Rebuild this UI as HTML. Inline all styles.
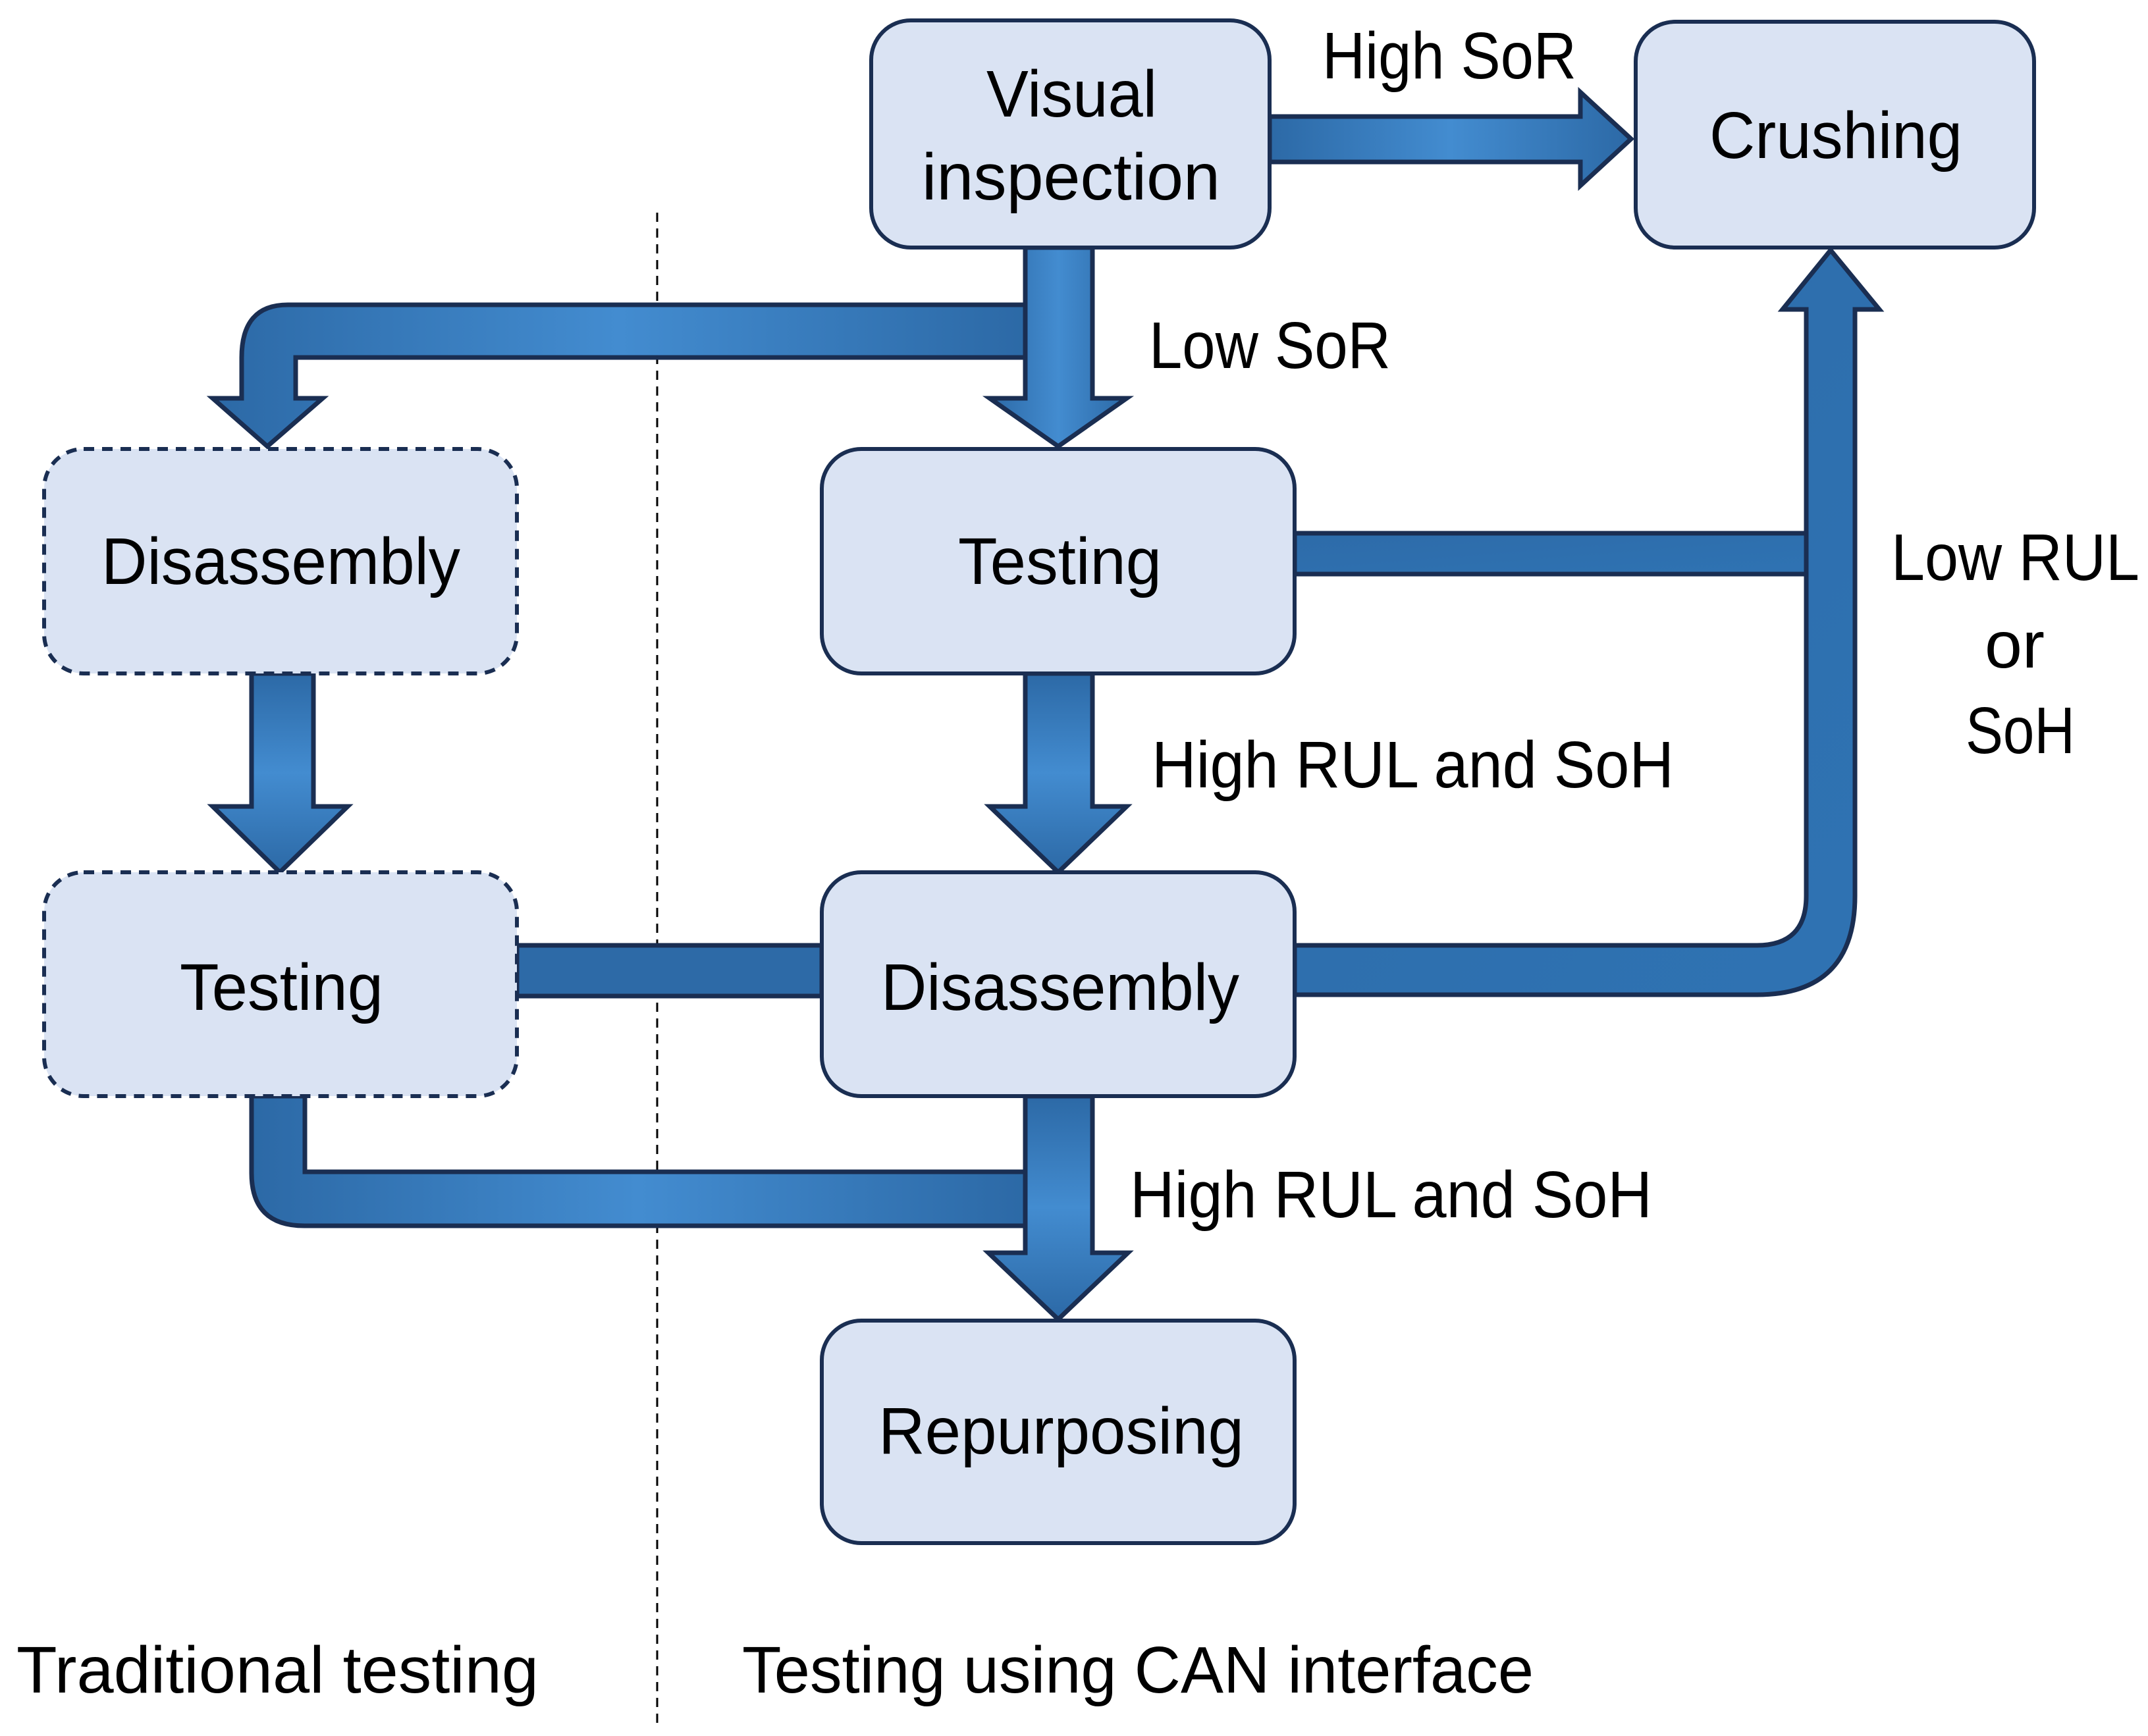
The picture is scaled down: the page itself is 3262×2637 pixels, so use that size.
<!DOCTYPE html>
<html><head><meta charset="utf-8"><style>
html,body{margin:0;padding:0;background:#fff}
svg{display:block}
text{font-family:"Liberation Sans",sans-serif;font-size:100px;fill:#000}
</style></head><body>
<svg width="3262" height="2637" viewBox="0 0 3262 2637" xmlns="http://www.w3.org/2000/svg">
<defs>
<linearGradient id="gh" x1="0" y1="0" x2="1" y2="0">
<stop offset="0" stop-color="#2c69a6"/><stop offset="0.5" stop-color="#438cd0"/><stop offset="1" stop-color="#2c69a6"/>
</linearGradient>
<linearGradient id="gv" x1="0" y1="0" x2="0" y2="1">
<stop offset="0" stop-color="#2c69a6"/><stop offset="0.5" stop-color="#438cd0"/><stop offset="1" stop-color="#2c69a6"/>
</linearGradient>
<linearGradient id="gs" x1="0" y1="0" x2="1" y2="1">
<stop offset="0" stop-color="#2d6ba9"/><stop offset="1" stop-color="#2f73b3"/>
</linearGradient>
</defs>

<!-- dotted divider -->
<line x1="998" y1="323" x2="998" y2="2619" stroke="#000" stroke-width="3" stroke-dasharray="14,10"/>

<g stroke="#1a2e52" stroke-width="7" stroke-linejoin="miter">
<!-- High SoR arrow -->
<path d="M1928 177 H2400 V140 L2477 211 L2400 282 V246 H1928 Z" fill="url(#gh)"/>
<!-- left branch from VI -->
<path d="M1557 463 H437 Q367 463 367 543 V605 H323 L406 678 L490 605 H449 V543 H1557 Z" fill="url(#gh)"/>
<!-- down from VI -->
<path d="M1557 376 H1659 V605 H1711 L1607 678 L1503 605 H1557 Z" fill="url(#gh)"/>
<!-- Testing to crushing horizontal -->
<path d="M1966 810 H2745 V872 H1966 Z" fill="url(#gs)"/>
<!-- Disassembly to crushing -->
<path d="M1966 1436 H2668 Q2743 1436 2743 1361 V470 H2707 L2780 380 L2854 470 H2817 V1361 Q2817 1511 2668 1511 H1966 Z" fill="url(#gs)"/>
<!-- Testing to disassembly -->
<path d="M1557 1023 H1659 V1225 H1711 L1607 1325 L1503 1225 H1557 Z" fill="url(#gv)"/>
<!-- left disassembly to testing -->
<path d="M382 1023 H476 V1225 H528 L425 1325 L323 1225 H382 Z" fill="url(#gv)"/>
<!-- left testing to disassembly -->
<path d="M785 1436 H1248 V1513 H785 Z" fill="#2d6aa7"/>
<!-- bottom loop -->
<path d="M382 1665 H463 V1780 H1557 V1862 H462 Q382 1862 382 1782 Z" fill="url(#gh)"/>
<!-- disassembly to repurposing -->
<path d="M1557 1665 H1659 V1903 H1713 L1607 2004 L1501 1903 H1557 Z" fill="url(#gv)"/>
</g>

<g fill="#dae3f3" stroke="#1a2e52" stroke-width="6">
<rect x="1323" y="31" width="605" height="345" rx="60"/>
<rect x="2484" y="33" width="605" height="343" rx="60"/>
<rect x="1248" y="682" width="718" height="341" rx="60"/>
<rect x="1248" y="1325" width="718" height="340" rx="60"/>
<rect x="1248" y="2006" width="718" height="338" rx="60"/>
<rect x="67" y="682" width="718" height="341" rx="60" stroke-dasharray="16,12"/>
<rect x="67" y="1325" width="718" height="340" rx="60" stroke-dasharray="16,12"/>
</g>

<text x="1498" y="177" textLength="259" lengthAdjust="spacingAndGlyphs">Visual</text>
<text x="1400" y="303" textLength="453" lengthAdjust="spacingAndGlyphs">inspection</text>
<text x="2596" y="240" textLength="384" lengthAdjust="spacingAndGlyphs">Crushing</text>
<text x="1455" y="887" textLength="309" lengthAdjust="spacingAndGlyphs">Testing</text>
<text x="154" y="887" textLength="545" lengthAdjust="spacingAndGlyphs">Disassembly</text>
<text x="1338" y="1534" textLength="544" lengthAdjust="spacingAndGlyphs">Disassembly</text>
<text x="273" y="1534" textLength="309" lengthAdjust="spacingAndGlyphs">Testing</text>
<text x="1334" y="2208" textLength="555" lengthAdjust="spacingAndGlyphs">Repurposing</text>

<text x="2008" y="119" textLength="386" lengthAdjust="spacingAndGlyphs">High SoR</text>
<text x="1745" y="559" textLength="367" lengthAdjust="spacingAndGlyphs">Low SoR</text>
<text x="1749" y="1196" textLength="793" lengthAdjust="spacingAndGlyphs">High RUL and SoH</text>
<text x="1716" y="1849" textLength="793" lengthAdjust="spacingAndGlyphs">High RUL and SoH</text>
<text x="2872" y="881" textLength="377" lengthAdjust="spacingAndGlyphs">Low RUL</text>
<text x="3014" y="1014" textLength="91" lengthAdjust="spacingAndGlyphs">or</text>
<text x="2985" y="1144" textLength="166" lengthAdjust="spacingAndGlyphs">SoH</text>

<text x="25" y="2571" textLength="793" lengthAdjust="spacingAndGlyphs">Traditional testing</text>
<text x="1127" y="2571" textLength="1202" lengthAdjust="spacingAndGlyphs">Testing using CAN interface</text>
</svg>
</body></html>
